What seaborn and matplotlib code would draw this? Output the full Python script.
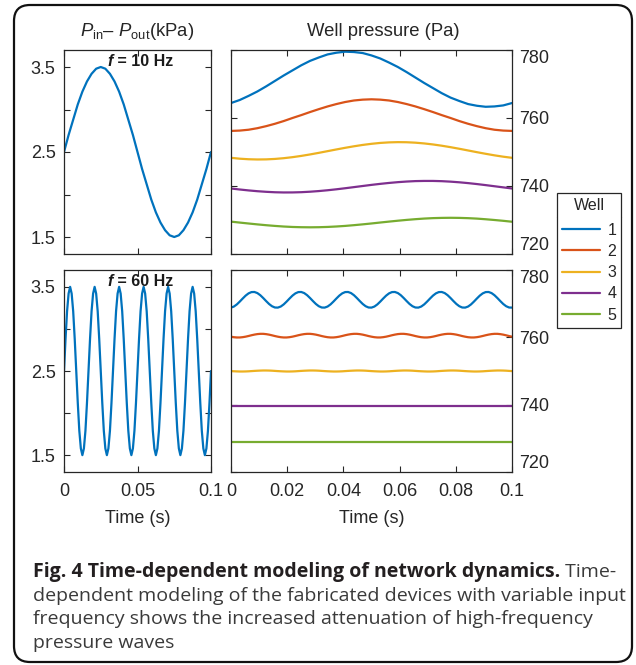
import numpy as np
import pandas as pd
import matplotlib.pyplot as plt
import seaborn as sns
from matplotlib.patches import FancyBboxPatch
from matplotlib.lines import Line2D

# ---- data ----
wells = ["1", "2", "3", "4", "5"]
well_colors = ["#0072BD", "#D95319", "#EDB120", "#7E2F8E", "#77AC30"]

t_10hz = np.linspace(0, 0.1, 33)
t_60hz = np.linspace(0, 0.1, 97)
t_flat = [0.0, 0.1]

# input pressure difference (kPa)
dp_10hz = [2.50, 2.70, 2.88, 3.06, 3.21, 3.33, 3.42, 3.48, 3.50, 3.48, 3.42, 3.33, 3.21, 3.06, 2.88, 2.70,
           2.50, 2.30, 2.12, 1.94, 1.79, 1.67, 1.58, 1.52, 1.50, 1.52, 1.58, 1.67, 1.79, 1.94, 2.12, 2.30, 2.50]
dp_60hz = [2.50, 2.88, 3.21, 3.42, 3.50, 3.42, 3.21, 2.88, 2.50, 2.12, 1.79, 1.58, 1.50, 1.58, 1.79, 2.12,
           2.50, 2.88, 3.21, 3.42, 3.50, 3.42, 3.21, 2.88, 2.50, 2.12, 1.79, 1.58, 1.50, 1.58, 1.79, 2.12,
           2.50, 2.88, 3.21, 3.42, 3.50, 3.42, 3.21, 2.88, 2.50, 2.12, 1.79, 1.58, 1.50, 1.58, 1.79, 2.12,
           2.50, 2.88, 3.21, 3.42, 3.50, 3.42, 3.21, 2.88, 2.50, 2.12, 1.79, 1.58, 1.50, 1.58, 1.79, 2.12,
           2.50, 2.88, 3.21, 3.42, 3.50, 3.42, 3.21, 2.88, 2.50, 2.12, 1.79, 1.58, 1.50, 1.58, 1.79, 2.12,
           2.50, 2.88, 3.21, 3.42, 3.50, 3.42, 3.21, 2.88, 2.50, 2.12, 1.79, 1.58, 1.50, 1.58, 1.79, 2.12,
           2.50]

# well pressure at 10 Hz (Pa)
w1_10hz = [764.4, 765.3, 766.5, 767.8, 769.3, 770.9, 772.5, 774.0, 775.5, 776.8, 777.8, 778.7, 779.2, 779.5,
           779.4, 779.1, 778.4, 777.5, 776.3, 775.0, 773.5, 771.9, 770.3, 768.8, 767.3, 766.0, 765.0, 764.1,
           763.6, 763.3, 763.4, 763.7, 764.4]
w2_10hz = [756.2, 756.3, 756.55, 757.0, 757.6, 758.3, 759.1, 760.0, 760.85, 761.75, 762.6, 763.4, 764.1,
           764.7, 765.15, 765.4, 765.5, 765.4, 765.15, 764.7, 764.1, 763.4, 762.6, 761.75, 760.85, 760.0,
           759.1, 758.3, 757.6, 757.0, 756.55, 756.3, 756.2]
w3_10hz = [748.29, 748.03, 747.87, 747.80, 747.83, 747.96, 748.18, 748.48, 748.85, 749.28, 749.75, 750.25,
           750.75, 751.23, 751.68, 752.08, 752.41, 752.67, 752.83, 752.90, 752.87, 752.74, 752.52, 752.22,
           751.85, 751.42, 750.95, 750.45, 749.95, 749.47, 749.02, 748.62, 748.29]
w4_10hz = [739.27, 738.97, 738.70, 738.47, 738.29, 738.16, 738.10, 738.11, 738.18, 738.32, 738.51, 738.75,
           739.03, 739.34, 739.67, 740.00, 740.33, 740.63, 740.90, 741.13, 741.31, 741.44, 741.49, 741.49,
           741.42, 741.28, 741.09, 740.85, 740.57, 740.26, 739.93, 739.60, 739.27]
w5_10hz = [729.52, 729.24, 728.97, 728.71, 728.47, 728.26, 728.08, 727.95, 727.88, 727.85, 727.88, 727.96,
           728.09, 728.26, 728.48, 728.72, 728.98, 729.26, 729.53, 729.79, 730.03, 730.24, 730.42, 730.55,
           730.62, 730.65, 730.62, 730.54, 730.41, 730.22, 730.00, 729.76, 729.49]

# well pressure at 60 Hz (Pa)
w1_60hz = [768.83, 769.15, 769.78, 770.62, 771.53, 772.39, 773.06, 773.44, 773.47, 773.15, 772.52, 771.68, 770.77, 769.91, 769.24, 768.86,
           768.83, 769.15, 769.78, 770.62, 771.53, 772.39, 773.06, 773.44, 773.47, 773.15, 772.52, 771.68, 770.77, 769.91, 769.24, 768.86,
           768.83, 769.15, 769.78, 770.62, 771.53, 772.39, 773.06, 773.44, 773.47, 773.15, 772.52, 771.68, 770.77, 769.91, 769.24, 768.86,
           768.83, 769.15, 769.78, 770.62, 771.53, 772.39, 773.06, 773.44, 773.47, 773.15, 772.52, 771.68, 770.77, 769.91, 769.24, 768.86,
           768.83, 769.15, 769.78, 770.62, 771.53, 772.39, 773.06, 773.44, 773.47, 773.15, 772.52, 771.68, 770.77, 769.91, 769.24, 768.86,
           768.83, 769.15, 769.78, 770.62, 771.53, 772.39, 773.06, 773.44, 773.47, 773.15, 772.52, 771.68, 770.77, 769.91, 769.24, 768.86,
           768.83]
w2_60hz = [760.19, 760.04, 759.96, 759.96, 760.05, 760.20, 760.40, 760.62, 760.81, 760.96, 761.04, 761.04, 760.95, 760.80, 760.60, 760.38,
           760.19, 760.04, 759.96, 759.96, 760.05, 760.20, 760.40, 760.62, 760.81, 760.96, 761.04, 761.04, 760.95, 760.80, 760.60, 760.38,
           760.19, 760.04, 759.96, 759.96, 760.05, 760.20, 760.40, 760.62, 760.81, 760.96, 761.04, 761.04, 760.95, 760.80, 760.60, 760.38,
           760.19, 760.04, 759.96, 759.96, 760.05, 760.20, 760.40, 760.62, 760.81, 760.96, 761.04, 761.04, 760.95, 760.80, 760.60, 760.38,
           760.19, 760.04, 759.96, 759.96, 760.05, 760.20, 760.40, 760.62, 760.81, 760.96, 761.04, 761.04, 760.95, 760.80, 760.60, 760.38,
           760.19, 760.04, 759.96, 759.96, 760.05, 760.20, 760.40, 760.62, 760.81, 760.96, 761.04, 761.04, 760.95, 760.80, 760.60, 760.38,
           760.19]
w3_60hz = [749.97, 749.92, 749.88, 749.85, 749.85, 749.87, 749.91, 749.97, 750.03, 750.08, 750.12, 750.15, 750.15, 750.13, 750.09, 750.03,
           749.97, 749.92, 749.88, 749.85, 749.85, 749.87, 749.91, 749.97, 750.03, 750.08, 750.12, 750.15, 750.15, 750.13, 750.09, 750.03,
           749.97, 749.92, 749.88, 749.85, 749.85, 749.87, 749.91, 749.97, 750.03, 750.08, 750.12, 750.15, 750.15, 750.13, 750.09, 750.03,
           749.97, 749.92, 749.88, 749.85, 749.85, 749.87, 749.91, 749.97, 750.03, 750.08, 750.12, 750.15, 750.15, 750.13, 750.09, 750.03,
           749.97, 749.92, 749.88, 749.85, 749.85, 749.87, 749.91, 749.97, 750.03, 750.08, 750.12, 750.15, 750.15, 750.13, 750.09, 750.03,
           749.97, 749.92, 749.88, 749.85, 749.85, 749.87, 749.91, 749.97, 750.03, 750.08, 750.12, 750.15, 750.15, 750.13, 750.09, 750.03,
           749.97]
w4_60hz = [739.7, 739.7]
w5_60hz = [729.0, 729.0]

dp_ticks = [1.5, 2.0, 2.5, 3.0, 3.5]
dp_ticklabels = ["1.5", "", "2.5", "", "3.5"]
well_ticks = [720, 740, 760, 780]
t_ticks_left = [0, 0.05, 0.1]
t_ticklabels_left = ["0", "0.05", "0.1"]
t_ticks_right = [0, 0.02, 0.04, 0.06, 0.08, 0.1]
t_ticklabels_right = ["0", "0.02", "0.04", "0.06", "0.08", "0.1"]

caption_bold = "Fig. 4 Time-dependent modeling of network dynamics."
caption_rest = [" Time-",
                "dependent modeling of the fabricated devices with variable input",
                "frequency shows the increased attenuation of high-frequency",
                "pressure waves"]


def wells_frame(t_list, y_list):
    parts = []
    for w, t, y in zip(wells, t_list, y_list):
        parts.append(pd.DataFrame({"t": t, "p": y, "Well": w}))
    return pd.concat(parts, ignore_index=True)


df_10 = wells_frame([t_10hz] * 5, [w1_10hz, w2_10hz, w3_10hz, w4_10hz, w5_10hz])
df_60 = wells_frame([t_60hz, t_60hz, t_60hz, t_flat, t_flat],
                    [w1_60hz, w2_60hz, w3_60hz, w4_60hz, w5_60hz])

# ---- style ----
sns.set_style("ticks")
plt.rcParams["font.family"] = ["Liberation Sans", "DejaVu Sans"]
plt.rcParams["mathtext.fontset"] = "custom"
plt.rcParams["mathtext.rm"] = "Liberation Sans"
plt.rcParams["mathtext.it"] = "Liberation Sans:italic"
plt.rcParams["axes.edgecolor"] = "#262626"
plt.rcParams["axes.linewidth"] = 0.9

TXT = "#262626"
FS = 13

W, H = 636, 665
fig = plt.figure(figsize=(W / 100, H / 100), dpi=100)


def px_axes(x0, y0, x1, y1):
    return fig.add_axes([x0 / W, 1 - y1 / H, (x1 - x0) / W, (y1 - y0) / H])


ax_tl = px_axes(64, 50, 211, 254)
ax_bl = px_axes(64, 270, 211, 472)
ax_tr = px_axes(231, 50, 512, 254)
ax_br = px_axes(231, 270, 512, 472)

lw = 1.6
sns.lineplot(x=t_10hz, y=dp_10hz, ax=ax_tl, color=well_colors[0], lw=lw, sort=False)
sns.lineplot(x=t_60hz, y=dp_60hz, ax=ax_bl, color=well_colors[0], lw=lw, sort=False)
sns.lineplot(data=df_10, x="t", y="p", hue="Well", hue_order=wells, palette=well_colors,
             ax=ax_tr, lw=lw, sort=False, estimator=None, legend=True)
sns.lineplot(data=df_60, x="t", y="p", hue="Well", hue_order=wells, palette=well_colors,
             ax=ax_br, lw=lw, sort=False, estimator=None, legend=False)

for ax in (ax_tl, ax_bl):
    ax.set_xlim(0, 0.1)
    ax.set_ylim(1.3, 3.7)
    ax.set_yticks(dp_ticks)
    ax.set_yticklabels(dp_ticklabels)
    ax.set_xticks(t_ticks_left)
    ax.set_xticklabels(t_ticklabels_left)
for ax in (ax_tr, ax_br):
    ax.set_xlim(0, 0.1)
    ax.set_ylim(720, 780)
    ax.set_yticks(well_ticks)
    ax.set_xticks(t_ticks_right)
    ax.set_xticklabels(t_ticklabels_right)

for ax in (ax_tl, ax_bl, ax_tr, ax_br):
    ax.set_xlabel("")
    ax.set_ylabel("")
    for s in ax.spines.values():
        s.set_visible(True)
    ax.tick_params(direction="in", length=4, width=0.8, top=True, right=True,
                   labelsize=FS, colors=TXT, labelcolor=TXT, pad=6)
    ax.tick_params(axis="x", pad=8)
for ax in (ax_tr, ax_br):
    ax.tick_params(axis="y", labelleft=False, labelright=True, pad=5)
    # end labels sit inside the axis height, as in the original
    ylabels = ax.get_yticklabels()
    ylabels[0].set_va("bottom")
    ylabels[-1].set_va("top")
for ax in (ax_tl, ax_tr):
    ax.tick_params(axis="x", labelbottom=False)

ax_bl.set_xlabel("Time (s)", fontsize=FS, color=TXT, labelpad=7)
ax_br.set_xlabel("Time (s)", fontsize=FS, color=TXT, labelpad=7)

fig.text(137.5 / W, 1 - 32 / H, r"$P_{\mathrm{in}}$– $P_{\mathrm{out}}$(kPa)",
         ha="center", va="center", fontsize=13.3, color=TXT)
fig.text(383 / W, 1 - 31 / H, "Well pressure (Pa)", ha="center", va="center",
         fontsize=13.3, color=TXT)

for ax, label in ((ax_tl, " = 10 Hz"), (ax_bl, " = 60 Hz")):
    ft = ax.text(0.335, 0.945, "f", transform=ax.transAxes, ha="right", va="center",
                 fontsize=11.5, fontweight="bold", fontstyle="italic", color="#1a1a1a")
    ax.annotate(label, xy=(1, 0), xycoords=ft, ha="left", va="bottom",
                fontsize=11.5, fontweight="bold", color="#1a1a1a")

# legend
handles, labels = ax_tr.get_legend_handles_labels()
ax_tr.get_legend().remove()
leg = fig.legend(handles, labels, title="Well", loc="upper left",
                 bbox_to_anchor=(557 / W, 1 - 193 / H), frameon=True, fancybox=False,
                 edgecolor=TXT, framealpha=1, fontsize=11.5, title_fontsize=11.5,
                 handlelength=2.4, handletextpad=0.45, labelspacing=0.39,
                 borderpad=0.3, borderaxespad=0, alignment="center")
leg._legend_box.sep = 7.2
leg.get_frame().set_linewidth(0.9)
for h in leg.legend_handles:
    h.set_linewidth(1.6)
for txt in leg.get_texts():
    txt.set_color(TXT)
leg.get_title().set_color(TXT)
fig.add_artist(Line2D([557 / W, 621 / W], [1 - 217 / H, 1 - 217 / H],
                      transform=fig.transFigure, color=TXT, lw=0.9))

# caption
cap_font = ["Open Sans", "DejaVu Sans"]
CFS = 14.0
bold = fig.text(33 / W, 1 - 572 / H, caption_bold, ha="left", va="center",
                fontsize=CFS, fontweight="bold", family=cap_font, color="#231f20")
ax_bl.annotate(caption_rest[0], xy=(1, 0.5), xycoords=bold, ha="left", va="center",
               fontsize=CFS, family=cap_font, color="#3a3a3a", annotation_clip=False)
for i, line in enumerate(caption_rest[1:]):
    fig.text(33 / W, 1 - (596 + 23.5 * i) / H, line, ha="left", va="center",
             fontsize=CFS, family=cap_font, color="#3a3a3a")

# rounded frame around the whole figure
frame = FancyBboxPatch((14, 3), 618, 657, boxstyle="round,pad=0,rounding_size=16",
                       transform=None, facecolor="none", edgecolor="#111111", lw=1.6)
fig.add_artist(frame)

fig.savefig("out.png", dpi=100)
